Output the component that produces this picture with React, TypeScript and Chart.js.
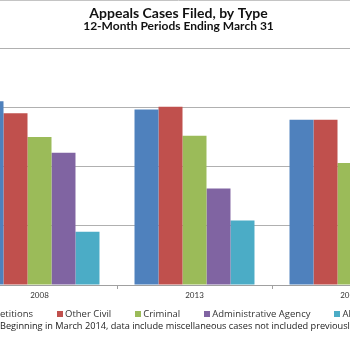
import React, { useEffect, useRef } from "react";
import { Chart, registerables } from "chart.js";

Chart.register(...registerables);

const categories = ["2008", "2013", "2014"];
const prisonerPetitions = [15500, 14800, 13950];
const otherCivil = [14500, 15050, 13950];
const criminal = [12500, 12600, 10300];
const adminAgency = [11150, 8150, 7000];
const allOther = [4500, 5450, 5500];
const seriesNames = ["Prisoner Petitions", "Other Civil", "Criminal", "Administrative Agency", "All Other"];
const seriesColors = ["#4F81BD", "#C0504D", "#9BBB59", "#8064A2", "#4BACC6"];
const titleText = "Appeals Cases Filed, by Type";
const subtitleText = "12-Month Periods Ending March 31";
const noteText = "Beginning in March 2014, data include miscellaneous cases not included previously.";
const yMin = 0;
const yMax = 20000;
const yStep = 5000;

const CANVAS_W = 517;
const CANVAS_H = 350;
const OFFSET = 80;
const FONT = "Lato, 'Open Sans', sans-serif";
const FONT2 = "'Open Sans', Lato, sans-serif";
const LEG_Y = 314;
const LEG_BOX = 6;
const LEG_GAP = 2;
const LEG_PAD = 24;
const LEG_FONT = 9.5;
const LEG_SECOND_BOX_X = 57;
const NOTE_Y = 326;
const NOTE_FONT = 9.2;

const legendAndNotePlugin = {
  id: "legendAndNote",
  afterDraw(chart: any) {
    const ctx = chart.ctx;
    ctx.save();
    ctx.strokeStyle = "#c4c4c4";
    ctx.lineWidth = 1;
    ctx.beginPath();
    ctx.moveTo(0, 0.5);
    ctx.lineTo(chart.width, 0.5);
    ctx.stroke();

    ctx.font = LEG_FONT + "px " + FONT2;
    ctx.textBaseline = "middle";
    ctx.textAlign = "left";
    const items = chart.data.datasets.map((ds: any) => ({
      text: ds.label as string,
      color: ds.backgroundColor as string,
      w: ctx.measureText(ds.label).width,
    }));
    let x = OFFSET + LEG_SECOND_BOX_X - (LEG_BOX + LEG_GAP + items[0].w + LEG_PAD);
    for (const it of items) {
      ctx.fillStyle = it.color;
      ctx.fillRect(Math.round(x), LEG_Y - 3, LEG_BOX, LEG_BOX);
      x += LEG_BOX + LEG_GAP;
      ctx.fillStyle = "#333";
      ctx.fillText(it.text, x, LEG_Y);
      x += it.w + LEG_PAD;
    }

    ctx.fillStyle = "#222";
    ctx.font = NOTE_FONT + "px " + FONT2;
    ctx.fillText(noteText, OFFSET, NOTE_Y);
    ctx.restore();
  },
};

export default function App() {
  const ref = useRef<HTMLCanvasElement | null>(null);

  useEffect(() => {
    if (!ref.current) return;
    const values = [prisonerPetitions, otherCivil, criminal, adminAgency, allOther];
    const chart = new Chart(ref.current, {
      type: "bar",
      data: {
        labels: categories,
        datasets: values.map((v, i) => ({
          label: seriesNames[i],
          data: v,
          backgroundColor: seriesColors[i],
          borderWidth: 0,
          barPercentage: 1,
          categoryPercentage: 0.774,
        })),
      },
      options: {
        responsive: false,
        animation: false,
        devicePixelRatio: 1,
        layout: { padding: { left: 10, right: 10, top: 0, bottom: 47.4 } },
        plugins: {
          title: {
            display: true,
            text: titleText,
            color: "#111",
            font: { family: FONT, size: 14, weight: "bold", lineHeight: 1 },
            padding: { top: 6, bottom: 0 },
          },
          subtitle: {
            display: true,
            text: subtitleText,
            color: "#111",
            font: { family: FONT, size: 12, weight: "bold", lineHeight: 1 },
            padding: { top: 0, bottom: 16 },
          },
          legend: { display: false },
          tooltip: { enabled: false },
        },
        scales: {
          x: {
            grid: {
              offset: true,
              drawOnChartArea: false,
              drawTicks: true,
              tickLength: 4,
              color: "#a0a0a0",
            },
            border: { color: "#a0a0a0" },
            ticks: { color: "#333", font: { family: FONT, size: 8 }, padding: 2 },
          },
          y: {
            min: yMin,
            max: yMax,
            ticks: { display: false, stepSize: yStep },
            grid: { color: "#b0b0b0", drawTicks: false },
            border: { display: false },
            afterFit: (s: any) => {
              s.width = 32;
            },
          },
        },
      },
      plugins: [legendAndNotePlugin],
    });
    return () => chart.destroy();
  }, []);

  return (
    <div
      style={{
        position: "fixed",
        left: 0,
        top: 0,
        width: 350,
        height: 350,
        overflow: "hidden",
        background: "#fff",
      }}
    >
      <canvas
        ref={ref}
        width={CANVAS_W}
        height={CANVAS_H}
        style={{ position: "absolute", left: -OFFSET, top: 0, width: CANVAS_W, height: CANVAS_H }}
      />
    </div>
  );
}
